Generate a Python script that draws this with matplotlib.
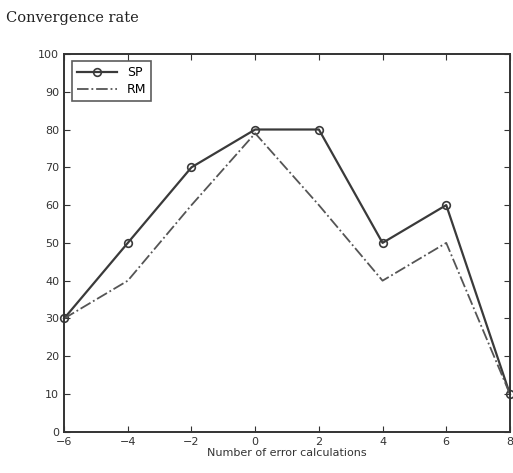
import matplotlib
matplotlib.use("Agg")
import matplotlib.pyplot as plt

x = [-6, -4, -2, 0, 2, 4, 6, 8]
sp = [30, 50, 70, 80, 80, 50, 60, 10]
rm = [30, 40, 60, 79, 60, 40, 50, 10]
xticks = [-6, -4, -2, 0, 2, 4, 6, 8]
yticks = [0, 10, 20, 30, 40, 50, 60, 70, 80, 90, 100]

fig = plt.figure(figsize=(5.13, 4.73), dpi=100)
ax = fig.add_axes([0.125, 0.087, 0.869, 0.799])
ax.plot(x, sp, '-', color='#3a3a3a', lw=1.6, marker='o', ms=5.5, mfc='none', mec='#3a3a3a', mew=1.2, label='SP', clip_on=False)
ax.plot(x, rm, linestyle='-.', color='#555555', lw=1.3, label='RM', clip_on=False)
ax.set_xlim(-6, 8)
ax.set_ylim(0, 100)
ax.set_xticks(xticks)
ax.set_yticks(yticks)
ax.tick_params(direction='in', length=4, labelsize=8, colors='#333333', top=True, right=True)
for s in ax.spines.values():
    s.set_linewidth(1.4)
    s.set_color('#333333')
ax.set_xlabel('Number of error calculations', fontsize=8, color='#333333', labelpad=1)
leg = ax.legend(loc='upper left', fontsize=9, frameon=True, fancybox=False, edgecolor='#333333', handlelength=3.2, borderpad=0.4, labelspacing=0.3, borderaxespad=0.6)
leg.get_frame().set_linewidth(1.2)
fig.text(0.012, 0.953, 'Convergence rate', fontsize=10.5, family='serif', color='#222222')
fig.savefig('out.png', dpi=100)
